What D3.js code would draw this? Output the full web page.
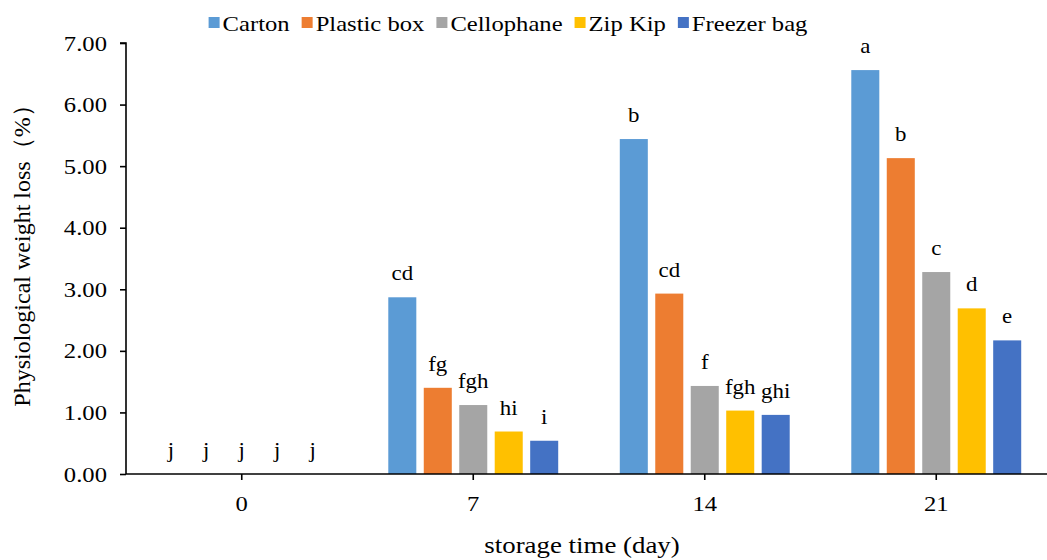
<!DOCTYPE html>
<html>
<head>
<meta charset="utf-8">
<script src="https://cdn.jsdelivr.net/npm/d3@7"></script>
<style>
  body { margin: 0; background: #fff; }
  svg text { font-family: "Liberation Serif", "Times New Roman", serif; fill: #000; }
</style>
</head>
<body>
<div id="chart"></div>
<script>
const days = ['0', '7', '14', '21']
const series = ['Carton', 'Plastic box', 'Cellophane', 'Zip Kip', 'Freezer bag']
const colors = ['#5B9BD5', '#ED7D31', '#A5A5A5', '#FFC000', '#4472C4']
// weight loss (%) per series, one value per storage day
const carton = [0, 2.87, 5.44, 6.56]
const plasticBox = [0, 1.40, 2.93, 5.13]
const cellophane = [0, 1.12, 1.43, 3.28]
const zipKip = [0, 0.69, 1.03, 2.69]
const freezerBag = [0, 0.54, 0.96, 2.17]
// significance letters
const lettersCarton = ['j', 'cd', 'b', 'a']
const lettersPlastic = ['j', 'fg', 'cd', 'b']
const lettersCello = ['j', 'fgh', 'f', 'c']
const lettersZip = ['j', 'hi', 'fgh', 'd']
const lettersFreezer = ['j', 'i', 'ghi', 'e']
const yTicks = [0, 1, 2, 3, 4, 5, 6, 7]

const values = [carton, plasticBox, cellophane, zipKip, freezerBag]
const letters = [lettersCarton, lettersPlastic, lettersCello, lettersZip, lettersFreezer]

const width = 1047
const height = 560
const mLeft = 126
const mRight = 1052
const mTop = 43
const mBottom = 474
const stretch = 1.12 // the source picture is a bit wider than tall
const serif = '"Liberation Serif", "Times New Roman", serif'

const svg = d3.select('#chart')
  .append('svg')
  .attr('width', width)
  .attr('height', height)
  .attr('font-family', serif)

const x0 = d3.scaleBand()
  .domain(days)
  .range([mLeft, mRight])
  .paddingInner(0.266)
  .paddingOuter(0.133)

const x1 = d3.scaleBand()
  .domain(series)
  .range([0, x0.bandwidth()])
  .paddingInner(0.21)

const y = d3.scaleLinear()
  .domain([0, 7])
  .range([mBottom, mTop])

// bars
const rows = []
days.forEach((d, i) => {
  series.forEach((s, j) => {
    rows.push({day: d, s: s, color: colors[j], v: values[j][i], label: letters[j][i]})
  })
})

const g = svg.append('g')
g.selectAll('rect')
  .data(rows)
  .enter()
  .append('rect')
  .attr('x', d => x0(d.day) + x1(d.s))
  .attr('y', d => y(d.v))
  .attr('width', x1.bandwidth())
  .attr('height', d => y(0) - y(d.v))
  .style('fill', d => d.color)

g.selectAll('.lab')
  .data(rows)
  .enter()
  .append('text')
  .attr('class', 'lab')
  .attr('transform', d => `translate(${x0(d.day) + x1(d.s) + x1.bandwidth() / 2}, ${y(d.v) - 17}) scale(1.04, 1)`)
  .attr('text-anchor', 'middle')
  .style('font-family', serif)
  .style('font-size', '22px')
  .text(d => d.label)

// axes
const yAxis = d3.axisLeft(y)
  .tickValues(yTicks)
  .tickFormat(d3.format('.2f'))
  .tickSize(6)
  .tickPadding(11)
const xAxis = d3.axisBottom(x0)
  .tickSize(6)
  .tickPadding(15)

const ya = svg.append('g')
  .attr('transform', `translate(${mLeft}, 0)`)
  .call(yAxis)
ya.select('.domain').attr('d', `M-6,${mTop}H0V${mBottom}`)

const xa = svg.append('g')
  .attr('transform', `translate(0, ${mBottom})`)
  .call(xAxis)
xa.select('.domain').attr('d', `M${mLeft},0H${mRight}`)

svg.selectAll('.domain, .tick line')
  .style('stroke', '#000')
  .style('stroke-width', '1.6px')
svg.selectAll('.tick text')
  .style('font-size', '22px')
  .style('font-family', serif)
  .attr('fill', '#000')
  .attr('transform', `scale(${stretch}, 1)`)

// axis titles
svg.append('text')
  .attr('transform', `translate(30, 250) rotate(-90)`)
  .attr('text-anchor', 'middle')
  .style('font-family', serif)
  .style('font-size', '24px')
  .text('Physiological weight loss（%）')

svg.append('text')
  .attr('transform', `translate(582, 553) scale(${stretch}, 1)`)
  .attr('text-anchor', 'middle')
  .style('font-family', serif)
  .style('font-size', '24px')
  .text('storage time (day)')

// legend
const legend = svg.append('g')
let lx = 0
series.forEach((s, i) => {
  const item = legend.append('g').attr('transform', `translate(${lx}, 0)`)
  item.append('rect')
    .attr('x', 0)
    .attr('y', 17)
    .attr('width', 11)
    .attr('height', 11)
    .style('fill', colors[i])
  const t = item.append('text')
    .attr('transform', `translate(14, 31) scale(${stretch}, 1)`)
    .style('font-family', serif)
    .style('font-size', '22px')
    .text(s)
  lx += 14 + t.node().getComputedTextLength() * stretch + 12
})
const legendWidth = lx - 12
legend.attr('transform', `translate(${508 - legendWidth / 2}, 0)`)
</script>
</body>
</html>
